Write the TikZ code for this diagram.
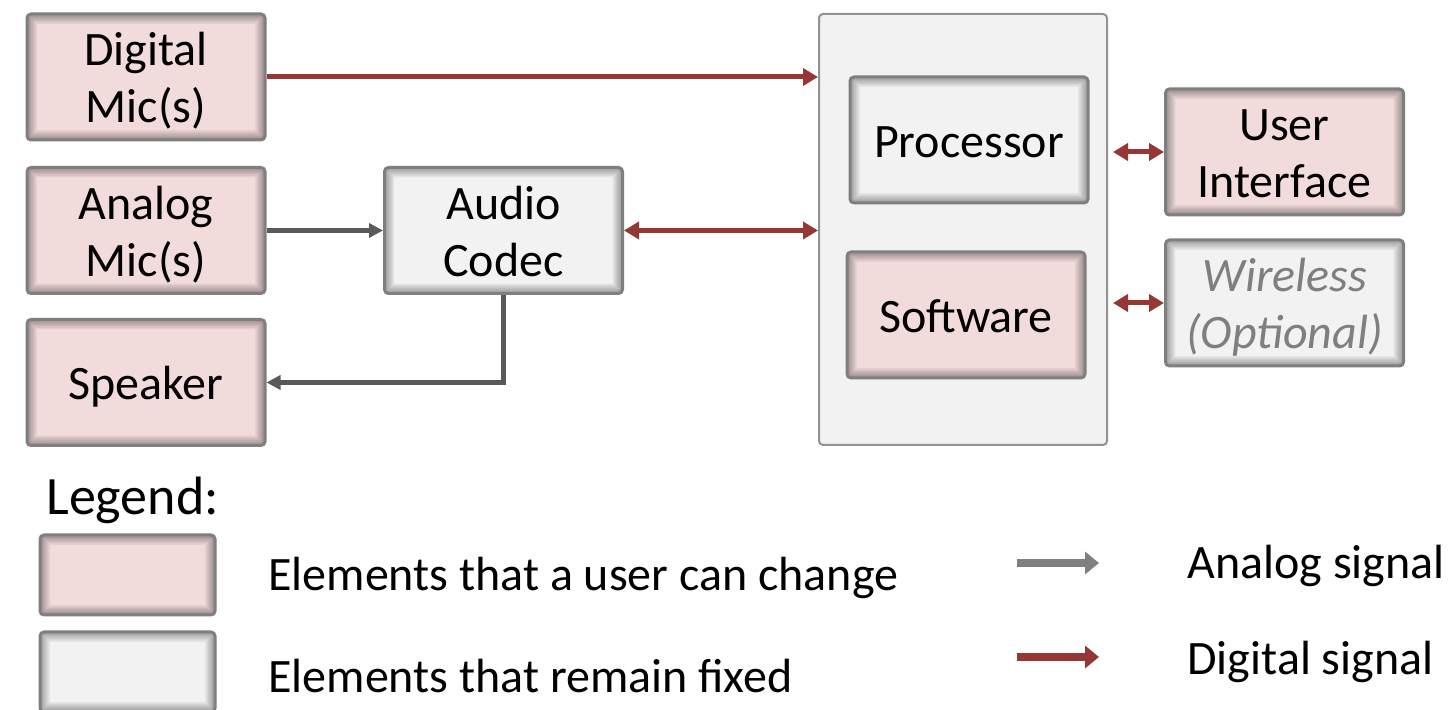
\documentclass[tikz,border=0pt]{standalone}
\usepackage{fontspec}
\setmainfont{Carlito}
\usetikzlibrary{arrows.meta,calc}
\definecolor{pinkfill}{HTML}{F2DCDB}
\definecolor{grayfill}{HTML}{F2F2F2}
\definecolor{boxborder}{HTML}{7F7F7F}
\definecolor{digred}{HTML}{953735}
\definecolor{anagray}{HTML}{595959}
\definecolor{leggray}{HTML}{7F7F7F}
\newcommand{\lbl}[1]{\raisebox{-3pt}[\height][\depth]{\begin{tabular}{@{}c@{}}#1\end{tabular}}}
\tikzset{
  shade in/.style={path picture={
    \foreach \d in {1,...,7}{
      \draw[black,opacity=0.055,line width=\d*1.4pt]
        (path picture bounding box.south west) rectangle (path picture bounding box.north east);}}},
  blk/.style={draw=boxborder, line width=1.5pt, rounded corners=2pt, shade in,
    minimum width=119pt, minimum height=63pt, align=center, inner sep=0pt,
    font=\fontsize{24}{28.5}\selectfont},
  user/.style={blk, fill=pinkfill},
  fixed/.style={blk, fill=grayfill},
  container/.style={draw=boxborder!85, line width=1pt, rounded corners=2pt, fill=grayfill,
    minimum width=144pt, minimum height=215.5pt},
  digarrow/.style={draw=digred, line width=2.5pt, -{Triangle[width=8.5pt,length=7.5pt]}},
  digboth/.style={draw=digred, line width=2.5pt, {Triangle[width=8.5pt,length=7.5pt]}-{Triangle[width=8.5pt,length=7.5pt]}},
  anaarrow/.style={draw=anagray, line width=2.5pt, -{Triangle[width=7pt,length=7pt]}},
  anaplain/.style={draw=anagray, line width=2.5pt},
  legarrow/.style={line width=4pt, -{Triangle[width=11pt,length=7pt]}},
  legtext/.style={anchor=west, inner sep=0pt, font=\fontsize{24}{28.5}\selectfont},
}
\begin{document}
\begin{tikzpicture}[x=0.5pt,y=-0.5pt]
\useasboundingbox[fill=white] (0,0) rectangle (1448,710);

% left column
\node[user] (dig) at (146,77) {\lbl{Digital\\Mic(s)}};
\node[user] (ana) at (146,230.5) {\lbl{Analog\\Mic(s)}};
\node[user] (spk) at (146,382.5) {\lbl{Speaker}};
\node[fixed] (codec) at (503.5,230.5) {\lbl{Audio\\Codec}};

% container
\node[container] (cont) at (963,229.5) {};
\node[fixed] (proc) at (969,140) {\lbl{Processor}};
\node[user] (soft) at (966,315) {\lbl{Software}};

% right column
\node[user] (ui) at (1284.5,152) {\lbl{User\\Interface}};
\node[fixed, text=boxborder, font=\fontsize{24}{28.5}\selectfont\itshape] (wl) at (1284.5,303) {\lbl{Wireless\\(Optional)}};

% connectors
\draw[digarrow] (dig.east) -- (dig.east -| cont.west);
\draw[anaarrow] (ana.east) -- (codec.west);
\draw[digboth] (codec.east) -- (codec.east -| cont.west);
\draw[anaplain] (codec.south) -- ([yshift=-1.25pt]codec.south |- spk.east);
\draw[anaarrow] ([xshift=1.25pt]codec.south |- spk.east) -- (spk.east);
\draw[digboth, shorten <=2.5pt] (cont.east |- ui.west) -- (ui.west);
\draw[digboth, shorten <=2.5pt] (cont.east |- wl.west) -- (wl.west);

% legend
\node[anchor=west, inner sep=0pt, font=\fontsize{27}{32}\selectfont] (legtitle) at (46,500) {Legend:};
\node[user, minimum width=87.5pt, minimum height=40pt] (lp) at (127.5,575) {};
\node[fixed, minimum width=87.5pt, minimum height=40pt] (lg) at (127.5,672) {};
\node[legtext] (lpt) at (268,578) {Elements that a user can change};
\node[legtext] (lgt) at (268,676) {Elements that remain fixed};
\coordinate (a1s) at (1017,563);
\coordinate (a1e) at (1099,563);
\coordinate (a2s) at (1017,657);
\coordinate (a2e) at (1099,657);
\draw[legarrow, draw=leggray] (a1s) -- (a1e);
\draw[legarrow, draw=digred] (a2s) -- (a2e);
\node[legtext] (at) at (1187,566) {Analog signal};
\node[legtext] (dt) at (1187,662) {Digital signal};
\end{tikzpicture}
\end{document}
